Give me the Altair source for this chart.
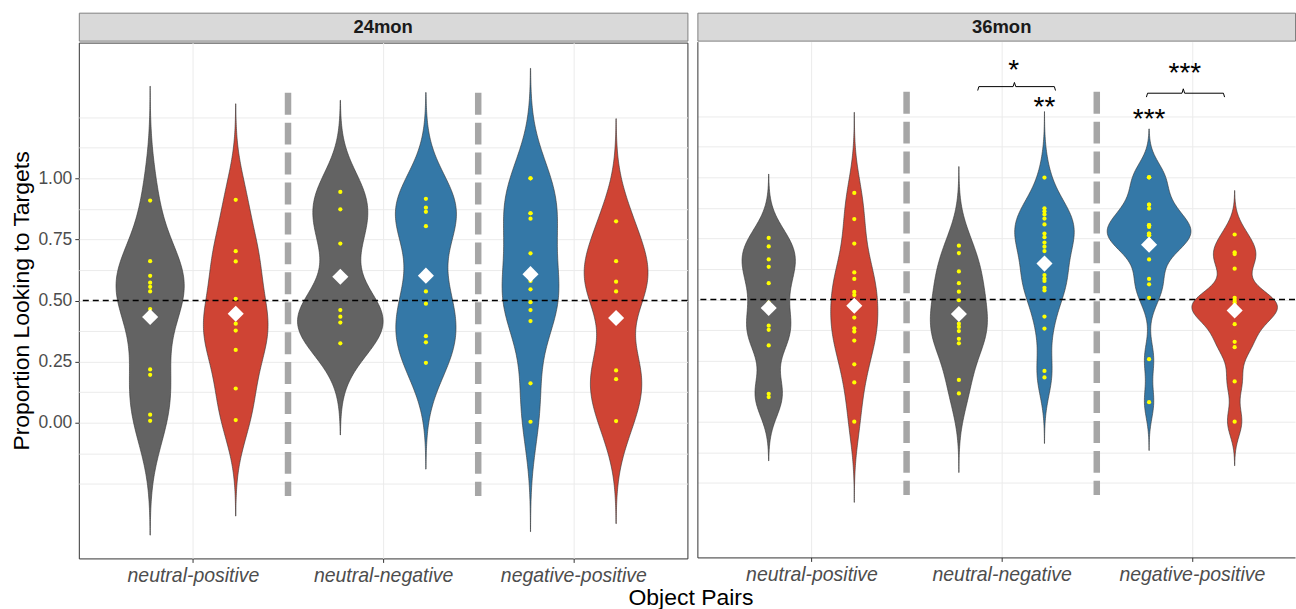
import json
import altair as alt
import pandas as pd

FONT = "Liberation Sans"

ages = ["24mon", "36mon"]
pair_labels = ["neutral-positive", "neutral-negative", "negative-positive"]
target_colors = {"neutral": "#636363", "positive": "#CF4434", "negative": "#3478A7"}

# ---- individual proportions (yellow dots) ----
v24_np_neutral = [0.909, 0.661, 0.601, 0.573, 0.556, 0.537, 0.465, 0.218, 0.196, 0.033, 0.008]
v24_np_positive = [0.912, 0.702, 0.660, 0.507, 0.405, 0.377, 0.298, 0.140, 0.011]
v24_nn_neutral = [0.944, 0.873, 0.733, 0.461, 0.434, 0.410, 0.325]
v24_nn_negative = [0.916, 0.880, 0.863, 0.804, 0.537, 0.487, 0.354, 0.329, 0.245]
v24_pp_negative = [1.0, 1.0, 0.857, 0.857, 0.835, 0.693, 0.580, 0.546, 0.493, 0.461, 0.416, 0.161, 0.004]
v24_pp_positive = [0.824, 0.661, 0.577, 0.537, 0.214, 0.178, 0.007]

v36_np_neutral = [0.752, 0.717, 0.664, 0.634, 0.567, 0.487, 0.393, 0.376, 0.312, 0.114, 0.101]
v36_np_positive = [0.936, 0.829, 0.729, 0.611, 0.584, 0.531, 0.518, 0.426, 0.382, 0.369, 0.332, 0.235, 0.161, 0.0]
v36_nn_neutral = [0.720, 0.690, 0.615, 0.567, 0.532, 0.497, 0.401, 0.388, 0.371, 0.339, 0.321, 0.171, 0.116]
v36_nn_negative = [0.999, 0.873, 0.861, 0.848, 0.831, 0.807, 0.770, 0.755, 0.733, 0.716, 0.698, 0.600,
                   0.586, 0.576, 0.548, 0.537, 0.430, 0.381, 0.208, 0.181]
v36_pp_negative = [1.0, 1.0, 1.0, 0.888, 0.888, 0.872, 0.804, 0.804, 0.797, 0.770, 0.770, 0.763, 0.763,
                   0.72, 0.72, 0.664, 0.584, 0.562, 0.507, 0.256, 0.080]
v36_pp_positive = [0.766, 0.693, 0.686, 0.626, 0.507, 0.498, 0.488, 0.478, 0.45, 0.44, 0.399, 0.327, 0.305, 0.165, 0.0]

# kernel bandwidth of each violin, read from the length of its tails (trim = FALSE, cut = 3 bw)
violins = [
    # age, pair, side, target, values, bandwidth
    ("24mon", 1, -1, "neutral", v24_np_neutral, 0.156),
    ("24mon", 1, 1, "positive", v24_np_positive, 0.131),
    ("24mon", 2, -1, "neutral", v24_nn_neutral, 0.125),
    ("24mon", 2, 1, "negative", v24_nn_negative, 0.145),
    ("24mon", 3, -1, "negative", v24_pp_negative, 0.150),
    ("24mon", 3, 1, "positive", v24_pp_positive, 0.140),
    ("36mon", 1, -1, "neutral", v36_np_neutral, 0.087),
    ("36mon", 1, 1, "positive", v36_np_positive, 0.110),
    ("36mon", 2, -1, "neutral", v36_nn_neutral, 0.108),
    ("36mon", 2, 1, "negative", v36_nn_negative, 0.090),
    ("36mon", 3, -1, "negative", v36_pp_negative, 0.066),
    ("36mon", 3, 1, "positive", v36_pp_positive, 0.060),
]

DODGE = 0.225  # half of the 0.45 dodged violin width
rows = []
for age, pair, side, target, vals, bw in violins:
    for v in vals:
        rows.append({"age": age, "vid": f"{age}-{pair}-{side}", "pos": pair + side * DODGE,
                     "col": target_colors[target], "bw": bw, "value": v})
df = pd.DataFrame(rows)

chance_df = pd.DataFrame({"y": [0.5]})
sep_df = pd.DataFrame({"x": [1.5, 2.5], "y": [1.35, 1.35], "y2": [-0.3, -0.3]})

bracket_bid = [1] * 7 + [2] * 7
bracket_seq = list(range(7)) * 2
bracket_x = [1.874, 1.880, 2.060, 2.067, 2.074, 2.277, 2.283,
             2.761, 2.767, 2.948, 2.955, 2.962, 3.166, 3.172]
bracket_y = [1.355, 1.371, 1.371, 1.388, 1.371, 1.371, 1.355,
             1.328, 1.344, 1.344, 1.362, 1.344, 1.344, 1.328]
bracket_df = pd.DataFrame({"bid": bracket_bid, "seq": bracket_seq, "x": bracket_x, "y": bracket_y})

star_labels = ["*", "**", "***", "***"]
star_x = [2.063, 2.225, 2.775, 2.963]
star_y = [1.404, 1.249, 1.200, 1.388]
star_df = pd.DataFrame({"label": star_labels, "x": star_x, "y": star_y})

grid_vals = [-0.25 + 0.125 * i for i in range(13)]
UNIT_PX = 610 / 3.2
W24, W36 = 610, 599
H = 517

yscale = alt.Scale(domain=[-0.5551, 1.5551], nice=False, zero=False)
is_major = "abs(datum.value*4 - round(datum.value*4)) < 0.001 && datum.value > -0.01 && datum.value < 1.01"
x_label_expr = json.dumps([""] + pair_labels) + "[datum.value]"


def make_axes(show_y):
    xaxis = alt.Axis(values=[1, 2, 3], labelExpr=x_label_expr, title=None, grid=True,
                     gridColor="#EBEBEB", gridWidth=1, tickSize=4, tickColor="#333333",
                     labelFont=FONT, labelFontSize=19.5, labelFontStyle="italic",
                     labelColor="#4D4D4D", labelPadding=4,
                     domain=not show_y, domainColor="#333333")
    if show_y:
        yaxis = alt.Axis(values=grid_vals, labelExpr=is_major + " ? format(datum.value, '.2f') : ''",
                         title="Proportion Looking to Targets", titleFont=FONT, titleFontSize=23,
                         titleFontWeight="normal", titleColor="black", titlePadding=4,
                         grid=True, gridColor="#EBEBEB", gridWidth=1, tickSize=4, tickColor="#333333",
                         tickOpacity={"condition": {"test": is_major, "value": 1}, "value": 0},
                         labelFont=FONT, labelFontSize=17.5, labelColor="#4D4D4D", labelPadding=3,
                         domain=False, labelOverlap=False)
    else:
        yaxis = alt.Axis(values=grid_vals, labels=False, ticks=False, title=None, grid=True,
                         gridColor="#EBEBEB", gridWidth=1, domain=True, domainColor="#333333")
    return xaxis, yaxis


def panel(age, width, show_y, annotate):
    xscale = alt.Scale(domain=[0.4, 0.4 + width / UNIT_PX], nice=False, zero=False)
    xaxis, yaxis = make_axes(show_y)

    base = alt.Chart(df)
    violin = (
        base.transform_filter(alt.datum.age == age)
        .transform_joinaggregate(n="count()", vmin="min(value)", vmax="max(value)", groupby=["vid"])
        .transform_calculate(idx="sequence(0, 201)")
        .transform_flatten(["idx"])
        .transform_calculate(y="datum.vmin - 3*datum.bw + (datum.vmax - datum.vmin + 6*datum.bw) * datum.idx / 200")
        .transform_calculate(k="exp(-0.5 * pow((datum.y - datum.value) / datum.bw, 2)) / (datum.bw * sqrt(2*PI) * datum.n)")
        .transform_aggregate(dens="sum(k)", groupby=["vid", "pos", "col", "idx", "y"])
        .transform_joinaggregate(maxd="max(dens)")  # scale = "area", per panel
        .transform_calculate(xl=f"datum.pos - datum.dens / datum.maxd * {DODGE}",
                             xr=f"datum.pos + datum.dens / datum.maxd * {DODGE}")
        .mark_area(orient="horizontal", stroke="#333333", strokeWidth=0.6, opacity=1)
        .encode(
            y=alt.Y("y:Q", scale=yscale, axis=yaxis),
            x=alt.X("xl:Q", scale=xscale, axis=xaxis),
            x2="xr:Q",
            color=alt.Color("col:N", scale=None),
            detail="vid:N",
        )
    )

    chance = alt.Chart(chance_df).mark_rule(color="black", strokeWidth=1.5, strokeDash=[6, 4]).encode(
        y=alt.Y("y:Q", scale=yscale, axis=yaxis))

    seps = alt.Chart(sep_df).mark_rule(color="#A6A6A6", strokeWidth=6.5, strokeDash=[22, 8]).encode(
        x=alt.X("x:Q", scale=xscale, axis=xaxis),
        y=alt.Y("y:Q", scale=yscale, axis=yaxis), y2="y2:Q")

    dots = base.transform_filter(alt.datum.age == age).mark_circle(
        size=18, color="#FFFF00", opacity=1).encode(
        x=alt.X("pos:Q", scale=xscale, axis=xaxis),
        y=alt.Y("value:Q", scale=yscale, axis=yaxis))

    means = base.transform_filter(alt.datum.age == age).transform_aggregate(
        m="mean(value)", groupby=["pos"]).mark_point(
        shape="diamond", filled=True, size=260, color="white", opacity=1).encode(
        x=alt.X("pos:Q", scale=xscale, axis=xaxis),
        y=alt.Y("m:Q", scale=yscale, axis=yaxis))

    layers = [violin, chance, seps, dots, means]
    if annotate:
        brackets = alt.Chart(bracket_df).mark_line(color="black", strokeWidth=1).encode(
            x=alt.X("x:Q", scale=xscale, axis=xaxis),
            y=alt.Y("y:Q", scale=yscale, axis=yaxis),
            detail="bid:N", order="seq:Q")
        stars = alt.Chart(star_df).mark_text(font=FONT, fontSize=28, color="black",
                                             align="center", baseline="alphabetic").encode(
            x=alt.X("x:Q", scale=xscale, axis=xaxis),
            y=alt.Y("y:Q", scale=yscale, axis=yaxis),
            text="label:N")
        layers += [brackets, stars]

    view = alt.ViewBackground(stroke="#333333", strokeWidth=1) if show_y else \
        alt.ViewBackground(strokeOpacity=0)
    return alt.layer(*layers).properties(width=width, height=H, view=view)


def strip(age, width):
    xscale = alt.Scale(domain=[0.4, 0.4 + width / UNIT_PX], nice=False, zero=False)
    sdf = pd.DataFrame({"label": [age], "x": [2.0]})
    return alt.Chart(sdf).mark_text(font=FONT, fontSize=18.5, fontWeight="bold", color="#1A1A1A",
                                    baseline="middle", align="center").encode(
        x=alt.X("x:Q", scale=xscale, axis=None),
        y=alt.value(14),
        text="label:N",
    ).properties(width=width, height=28,
                 view=alt.ViewBackground(fill="#D9D9D9", stroke="#7F7F7F", strokeWidth=1))


col24 = alt.vconcat(strip("24mon", W24), panel("24mon", W24, True, False), spacing=0).resolve_scale(
    x="independent", y="independent")
col36 = alt.vconcat(strip("36mon", W36), panel("36mon", W36, False, True), spacing=0).resolve_scale(
    x="independent", y="independent")

chart = alt.hconcat(col24, col36, spacing=7).resolve_scale(
    x="independent", y="independent").properties(
    padding={"left": 10, "top": 11, "right": 0, "bottom": 0},
    background="white",
    title=alt.TitleParams("Object Pairs", orient="bottom", anchor="middle", font=FONT, fontSize=23,
                          fontWeight="normal", color="black", offset=2, dx=38),
)

chart.save("out.html", embed_options={"renderer": "svg", "actions": False})
